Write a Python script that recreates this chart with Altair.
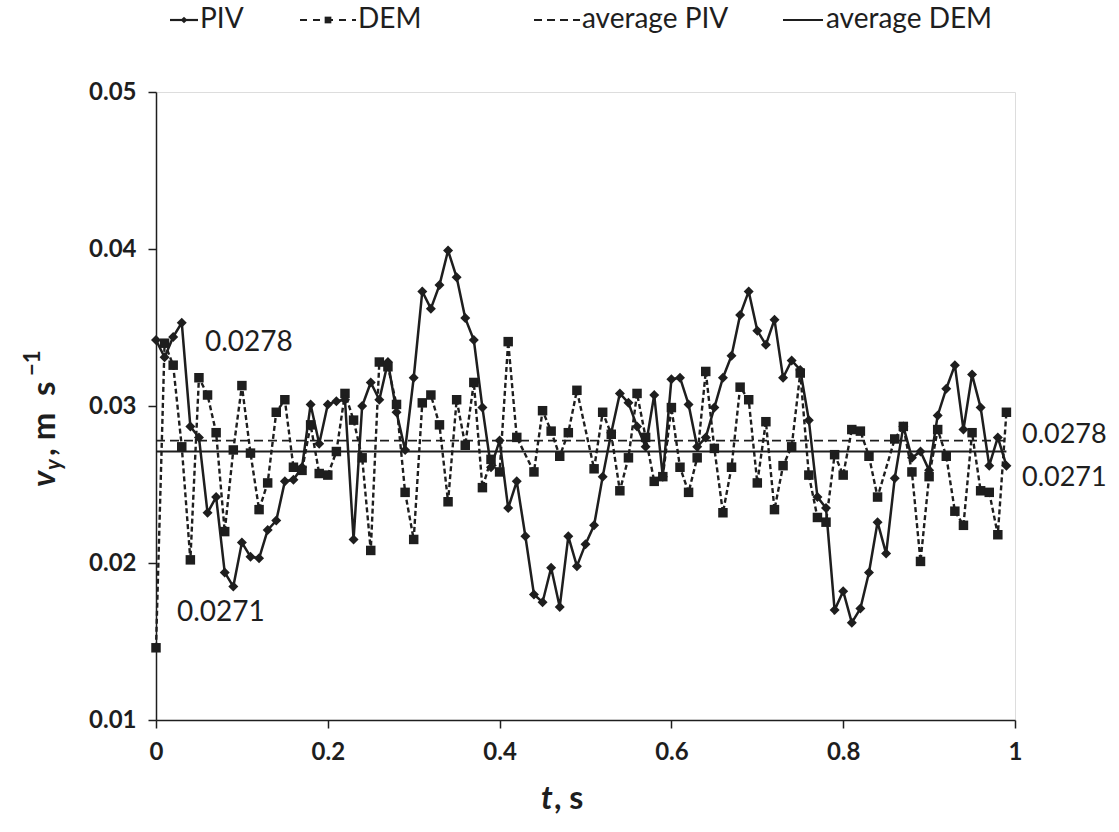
import altair as alt
import pandas as pd

# ---- data ----
t_piv = [round(i * 0.01, 2) for i in range(100)]
piv = [0.0342, 0.0331, 0.0344, 0.0353, 0.0287, 0.0280, 0.0232, 0.0242, 0.0194, 0.0185,
       0.0213, 0.0204, 0.0203, 0.0221, 0.0227, 0.0252, 0.0253, 0.0261, 0.0301, 0.0276,
       0.0301, 0.0303, 0.0304, 0.0215, 0.0300, 0.0315, 0.0304, 0.0328, 0.0296, 0.0272,
       0.0318, 0.0373, 0.0362, 0.0377, 0.0399, 0.0382, 0.0356, 0.0342, 0.0299, 0.0261,
       0.0278, 0.0235, 0.0252, 0.0217, 0.0180, 0.0175, 0.0197, 0.0172, 0.0217, 0.0198,
       0.0212, 0.0224, 0.0255, 0.0283, 0.0308, 0.0302, 0.0287, 0.0274, 0.0307, 0.0255,
       0.0317, 0.0318, 0.0301, 0.0274, 0.0280, 0.0299, 0.0318, 0.0332, 0.0358, 0.0373,
       0.0348, 0.0339, 0.0355, 0.0318, 0.0329, 0.0323, 0.0291, 0.0242, 0.0235, 0.0170,
       0.0182, 0.0162, 0.0171, 0.0194, 0.0226, 0.0206, 0.0254, 0.0287, 0.0267, 0.0271,
       0.0259, 0.0294, 0.0311, 0.0326, 0.0285, 0.0320, 0.0299, 0.0262, 0.0280, 0.0262]

t_dem = [0.00, 0.01, 0.02, 0.03, 0.04, 0.05, 0.06, 0.07, 0.08, 0.09,
         0.10, 0.11, 0.12, 0.13, 0.14, 0.15, 0.16, 0.17, 0.18, 0.19,
         0.20, 0.21, 0.22, 0.23, 0.24, 0.25, 0.26, 0.27, 0.28, 0.29,
         0.30, 0.31, 0.32, 0.33, 0.34, 0.35, 0.36, 0.37, 0.38, 0.39,
         0.40, 0.41, 0.42, 0.44, 0.45, 0.46, 0.47, 0.48, 0.49, 0.51,
         0.52, 0.53, 0.54, 0.55, 0.56, 0.57, 0.58, 0.59, 0.60, 0.61,
         0.62, 0.63, 0.64, 0.65, 0.66, 0.67, 0.68, 0.69, 0.70, 0.71,
         0.72, 0.73, 0.74, 0.75, 0.76, 0.77, 0.78, 0.79, 0.80, 0.81,
         0.82, 0.83, 0.84, 0.86, 0.87, 0.88, 0.89, 0.90, 0.91, 0.92,
         0.93, 0.94, 0.95, 0.96, 0.97, 0.98, 0.99]
dem = [0.0146, 0.0340, 0.0326, 0.0274, 0.0202, 0.0318, 0.0307, 0.0283, 0.0220, 0.0272,
       0.0313, 0.0270, 0.0234, 0.0251, 0.0296, 0.0304, 0.0261, 0.0259, 0.0288, 0.0257,
       0.0256, 0.0271, 0.0308, 0.0291, 0.0267, 0.0208, 0.0328, 0.0325, 0.0301, 0.0245,
       0.0215, 0.0302, 0.0307, 0.0288, 0.0239, 0.0304, 0.0275, 0.0315, 0.0248, 0.0266,
       0.0258, 0.0341, 0.0280, 0.0258, 0.0297, 0.0284, 0.0268, 0.0283, 0.0310, 0.0260,
       0.0296, 0.0282, 0.0246, 0.0267, 0.0308, 0.0280, 0.0252, 0.0255, 0.0299, 0.0261,
       0.0245, 0.0267, 0.0322, 0.0273, 0.0232, 0.0261, 0.0312, 0.0304, 0.0251, 0.0290,
       0.0234, 0.0262, 0.0274, 0.0321, 0.0256, 0.0229, 0.0226, 0.0269, 0.0256, 0.0285,
       0.0284, 0.0268, 0.0242, 0.0279, 0.0287, 0.0258, 0.0201, 0.0255, 0.0285, 0.0268,
       0.0233, 0.0224, 0.0283, 0.0246, 0.0245, 0.0218, 0.0296]

avg_names = ["average PIV", "average DEM"]
avg_values = [0.0278, 0.0271]
avg_t_start = [0.0, 0.0]
avg_t_end = [0.99, 0.99]
avg_labels = ["0.0278", "0.0271"]

FONT = "Lato"
INK = "#1e1e1e"

df_piv = pd.DataFrame({"t": t_piv, "v": piv})
df_dem = pd.DataFrame({"t": t_dem, "v": dem})
df_avg = pd.DataFrame({"name": avg_names, "v": avg_values, "t0": avg_t_start, "t1": avg_t_end})

xs = alt.Scale(domain=[0, 1], nice=False, zero=False)
ys = alt.Scale(domain=[0.01, 0.05], nice=False, zero=False)

xaxis = alt.Axis(values=[0, 0.2, 0.4, 0.6, 0.8, 1.0], format="~g", title=None, grid=False,
                 labelFont=FONT, labelFontSize=24, labelFontWeight="bold", labelColor=INK,
                 domainColor=INK, domainWidth=1.5, tickColor=INK, tickWidth=1.5, tickSize=8,
                 labelPadding=12, labelFlush=False)
yaxis = alt.Axis(values=[0.01, 0.02, 0.03, 0.04, 0.05], format=".2f", title=None, grid=False,
                 labelFont=FONT, labelFontSize=24, labelFontWeight="bold", labelColor=INK,
                 domainColor=INK, domainWidth=1.5, tickColor=INK, tickWidth=1.5, tickSize=8,
                 labelPadding=12)

base_piv = alt.Chart(df_piv).encode(x=alt.X("t:Q", scale=xs, axis=xaxis), y=alt.Y("v:Q", scale=ys, axis=yaxis))
piv_line = base_piv.mark_line(color=INK, strokeWidth=2.5)
piv_pts = base_piv.mark_point(shape="diamond", filled=True, color=INK, size=100, opacity=1)

base_dem = alt.Chart(df_dem).encode(x=alt.X("t:Q", scale=xs), y=alt.Y("v:Q", scale=ys))
dem_line = base_dem.mark_line(color=INK, strokeWidth=2.4, strokeDash=[5, 3])
dem_pts = base_dem.mark_point(shape="square", filled=True, color=INK, size=90, opacity=1)

avg_piv = alt.Chart(df_avg[df_avg.name == "average PIV"]).mark_rule(
    color=INK, strokeWidth=1.8, strokeDash=[9, 5]).encode(
    x=alt.X("t0:Q", scale=xs), x2="t1:Q", y=alt.Y("v:Q", scale=ys))
avg_dem = alt.Chart(df_avg[df_avg.name == "average DEM"]).mark_rule(
    color=INK, strokeWidth=2).encode(
    x=alt.X("t0:Q", scale=xs), x2="t1:Q", y=alt.Y("v:Q", scale=ys))

one = pd.DataFrame({"k": [0]})


def txt(s, x, y, size=22, weight="normal", style="normal", align="left", baseline="middle", angle=0):
    return alt.Chart(one).mark_text(text=s, font=FONT, fontSize=size, fontWeight=weight,
                                    fontStyle=style, align=align, baseline=baseline,
                                    angle=angle, color=INK).encode(x=alt.value(x), y=alt.value(y))


texts = [
    txt(avg_labels[0], 49, 251, size=28),      # inner label for average PIV
    txt(avg_labels[1], 21, 521, size=28),      # inner label for average DEM
    txt(avg_labels[0], 866, 343, size=27),
    txt(avg_labels[1], 866, 386, size=27),
    # x title
    txt("t", 385, 717, size=32, weight="bold", style="italic", baseline="alphabetic"),
    txt(", s", 398, 717, size=32, weight="bold", baseline="alphabetic"),
    # y title (rotated)
    txt("v", -101, 395, size=33, weight="bold", style="italic", baseline="alphabetic", angle=270),
    txt("y", -95, 378, size=22, weight="bold", style="italic", baseline="alphabetic", angle=270),
    txt(", m\u2002s", -101, 364, size=33, weight="bold", baseline="alphabetic", angle=270),
    txt("\u22121", -116, 284, size=22, weight="bold", baseline="alphabetic", angle=270),
    # legend
    txt("PIV", 44, -72, size=28),
    txt("DEM", 202, -72, size=28),
    txt("average PIV", 426, -72, size=28),
    txt("average DEM", 670, -72, size=28),
]

# legend symbols (pixel positions relative to plot origin)
leg_rules = [
    alt.Chart(one).mark_rule(color=INK, strokeWidth=2.2).encode(
        x=alt.value(14), x2=alt.value(42), y=alt.value(-72)),
    alt.Chart(one).mark_point(shape="diamond", filled=True, color=INK, size=45, opacity=1).encode(
        x=alt.value(28), y=alt.value(-72)),
    alt.Chart(one).mark_rule(color=INK, strokeWidth=2.2, strokeDash=[7, 6]).encode(
        x=alt.value(144), x2=alt.value(200), y=alt.value(-72)),
    alt.Chart(one).mark_point(shape="square", filled=True, color=INK, size=45, opacity=1).encode(
        x=alt.value(172), y=alt.value(-72)),
    alt.Chart(one).mark_rule(color=INK, strokeWidth=1.8, strokeDash=[8, 5]).encode(
        x=alt.value(378), x2=alt.value(424), y=alt.value(-72)),
    alt.Chart(one).mark_rule(color=INK, strokeWidth=2.2).encode(
        x=alt.value(627), x2=alt.value(667), y=alt.value(-72)),
]

chart = alt.layer(avg_piv, avg_dem, dem_line, dem_pts, piv_line, piv_pts, *texts, *leg_rules).properties(
    width=859, height=628,
    autosize=alt.AutoSizeParams(type="none"),
    padding={"left": 156, "top": 92, "right": 104, "bottom": 112},
).configure_view(stroke=None).configure(background="white")

chart.save("out.html", embed_options={"renderer": "svg", "actions": False})
